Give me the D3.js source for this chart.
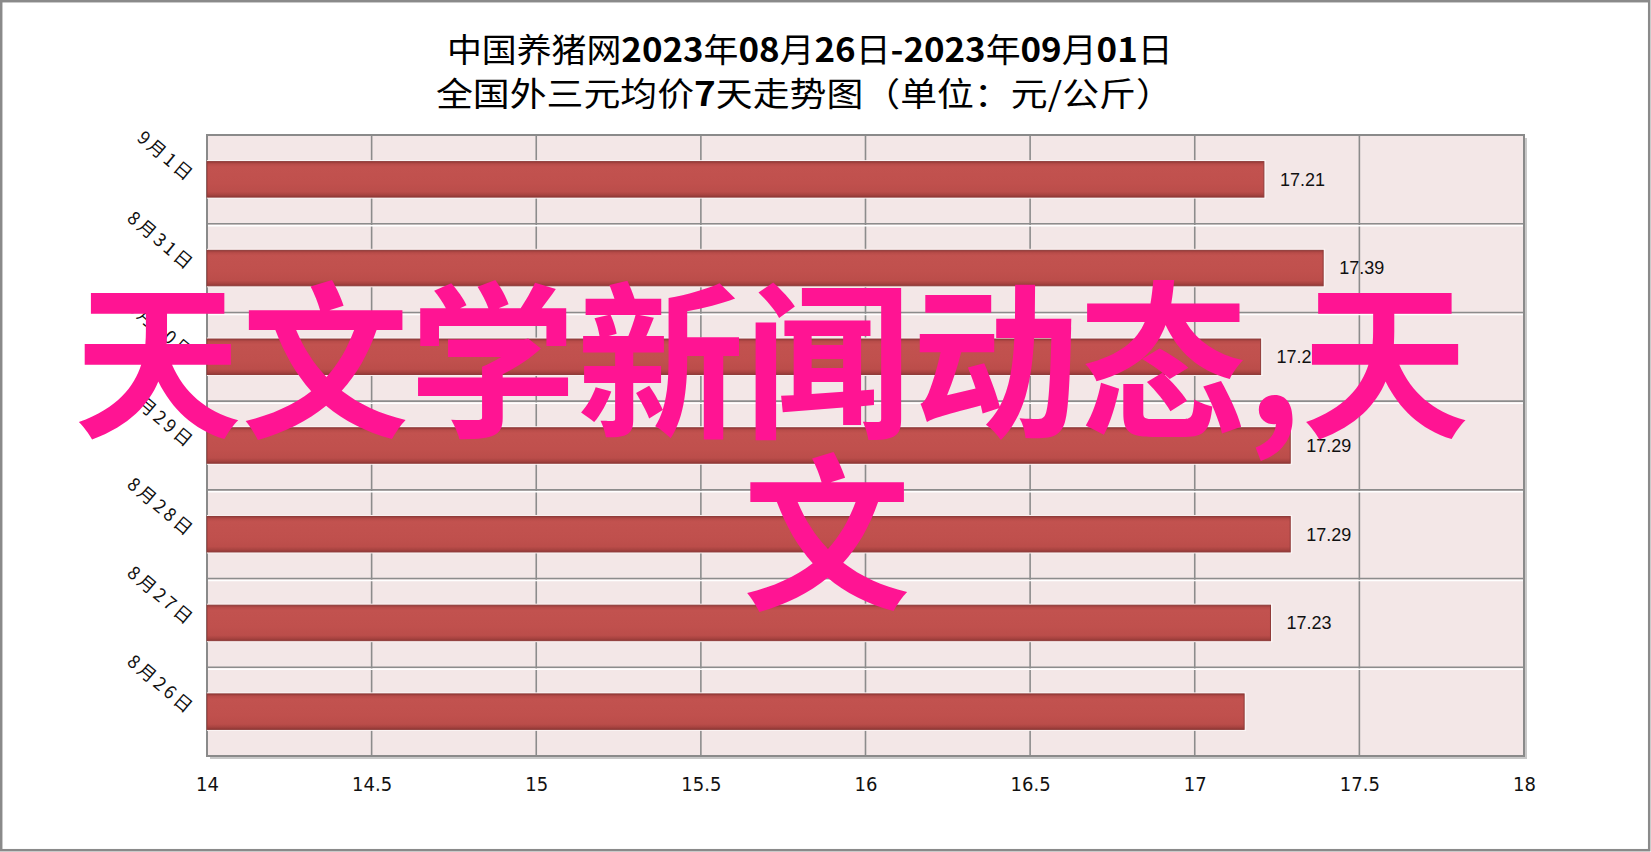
<!DOCTYPE html>
<html><head><meta charset="utf-8">
<script src="https://cdn.jsdelivr.net/npm/d3@7"></script>
<style>body{margin:0;background:#fff;overflow:hidden} svg{display:block}</style>
</head><body>
<svg id="c" width="1651" height="852"></svg>
<script>
// ---- data ----
const categories = ["9月1日","8月31日","8月30日","8月29日","8月28日","8月27日","8月26日"];
const values = [17.21,17.39,17.20,17.29,17.29,17.23,17.15];
const valueLabels = ["17.21","17.39","17.2","17.29","17.29","17.23",""];
const xTicks = [14,14.5,15,15.5,16,16.5,17,17.5,18];
const xTickLabels = ["14","14.5","15","15.5","16","16.5","17","17.5","18"];
const titleLine1 = [["中国养猪网",400],["2023",700],["年",400],["08",700],["月",400],["26",700],["日",400],["-2023",700],["年",400],["09",700],["月",400],["01",700],["日",400]];
const titleLine2 = [["全国外三元均价",400],["7",700],["天走势图（单位：元/公斤）",400]];
const overlayLines = ["天文学新闻动态,天","文"];

// ---- layout ----
const svg = d3.select("#c");
const L = 207, T = 135, R = 1524, B = 756;
const cjk = "'Noto Sans CJK SC', sans-serif";

svg.append("rect").attr("x",1.2).attr("y",1.2).attr("width",1648).attr("height",849)
  .attr("fill","#fff").attr("stroke","#8a8a8a").attr("stroke-width",2.5);

const x = d3.scaleLinear().domain([14,18]).range([L,R]);
const y = d3.scaleBand().domain(categories).range([T,B]).paddingInner(0.6).paddingOuter(0.3);

const defs = svg.append("defs");
const g1 = defs.append("linearGradient").attr("id","barg").attr("x1",0).attr("y1",0).attr("x2",0).attr("y2",1);
[[0,"#963b39"],[0.07,"#b84c49"],[0.15,"#c2524f"],[0.6,"#c0504d"],[0.85,"#bb4d4a"],[0.93,"#a94441"],[1,"#913836"]]
  .forEach(([o,c])=>g1.append("stop").attr("offset",o).attr("stop-color",c));

// plot shadow & background
svg.append("rect").attr("x",L+3).attr("y",T+3).attr("width",R-L).attr("height",B-T).attr("fill","#c8c8c8");
svg.append("rect").attr("x",L).attr("y",T).attr("width",R-L).attr("height",B-T).attr("fill","#f3e7e7");

// vertical gridlines
svg.append("g").selectAll("line").data(xTicks).join("line")
  .attr("x1",d=>x(d)).attr("x2",d=>x(d)).attr("y1",T).attr("y2",B)
  .attr("stroke","#8c8c8c").attr("stroke-width",1.6);

// horizontal band boundaries
const bounds = d3.range(1,categories.length).map(i=>T+i*y.step());
const hg = svg.append("g");
hg.selectAll("line.w").data(bounds).join("line").attr("class","w")
  .attr("x1",L).attr("x2",R).attr("y1",d=>d+2).attr("y2",d=>d+2).attr("stroke","#ffffff").attr("stroke-width",1.5);
hg.selectAll("line.g").data(bounds).join("line").attr("class","g")
  .attr("x1",L).attr("x2",R).attr("y1",d=>d).attr("y2",d=>d).attr("stroke","#8c8c8c").attr("stroke-width",1.6);

// plot border
svg.append("rect").attr("x",L).attr("y",T).attr("width",R-L).attr("height",B-T)
  .attr("fill","none").attr("stroke","#8a8a8a").attr("stroke-width",2);

// bars
const bars = svg.append("g");
categories.forEach((c,i)=>{
  const yy = y(c), h = y.bandwidth(), w = x(values[i]) - x(14);
  bars.append("rect").attr("x",x(14)).attr("y",yy-1.5).attr("width",w+2).attr("height",h+3)
    .attr("fill","#fbf5f5");
  bars.append("rect").attr("x",x(14)).attr("y",yy).attr("width",w).attr("height",h)
    .attr("fill","url(#barg)").attr("stroke","#8e3a38").attr("stroke-width",1);
});

// value labels
svg.append("g").selectAll("text").data(categories).join("text")
  .attr("x",(d,i)=>x(values[i])+16).attr("y",d=>y(d)+y.bandwidth()/2)
  .attr("dy","0.35em").attr("font-family","'Liberation Sans', Arial, sans-serif").attr("font-size",18)
  .attr("fill","#111").text((d,i)=>valueLabels[i]);

// y labels (rotated)
svg.append("g").selectAll("text").data(categories).join("text")
  .attr("transform",d=>`translate(188,${y(d)+y.bandwidth()/2+4}) rotate(40)`)
  .attr("text-anchor","end").attr("font-family",cjk).attr("font-size",18)
  .attr("letter-spacing",3).attr("fill","#111").text(d=>d);

// x tick labels
const xa = d3.axisBottom(x).tickValues(xTicks).tickFormat((d,i)=>xTickLabels[i]).tickSize(0).tickPadding(0);
const xg = svg.append("g").attr("transform",`translate(0,${B})`).call(xa);
xg.select(".domain").remove();
xg.selectAll("text").attr("y",35).attr("dy",0)
  .attr("font-family","'Liberation Sans Narrow','DejaVu Sans Condensed',sans-serif").attr("font-size",20).attr("fill","#111");

// titles fitted to measured width
function fitLine(parts, x0, x1, baseline, size){
  const t = svg.append("text").attr("font-family",cjk).attr("font-size",size).attr("fill","#000");
  parts.forEach(([s,wgt])=>t.append("tspan").attr("font-weight",wgt).text(s));
  const w = t.node().getBBox().width;
  t.attr("transform",`translate(${x0},${baseline}) scale(${(x1-x0)/w},1)`);
}
fitLine(titleLine1, 447, 1173, 62, 33);
fitLine(titleLine2, 436, 1173, 106, 33);

// overlay text
const ov = svg.append("g");
const o1 = ov.append("text").attr("font-family",cjk).attr("font-size",168).attr("font-weight",700)
  .attr("fill","#ff1493").text(overlayLines[0]);
const ow = o1.node().getBBox().width;
const sx = 1395/ow;
o1.attr("transform",`translate(74,425) scale(${sx},1)`);
ov.append("text").attr("font-family",cjk).attr("font-size",168).attr("font-weight",700)
  .attr("fill","#ff1493").attr("transform",`translate(743,597) scale(${sx},1)`).text(overlayLines[1]);
</script>
</body></html>
